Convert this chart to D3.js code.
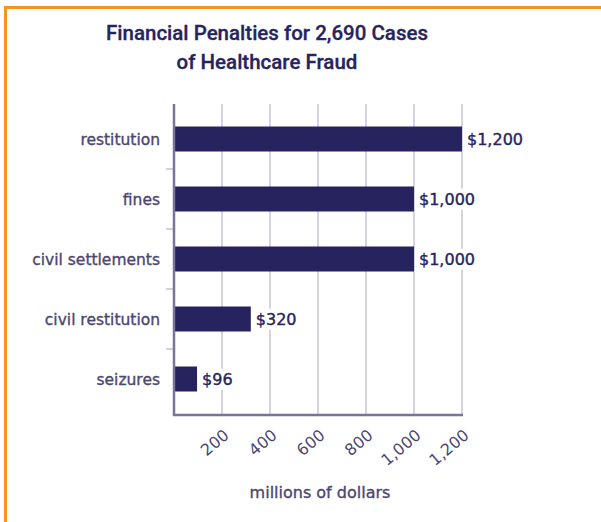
<!DOCTYPE html>
<html lang="en">
<head>
    <meta charset="UTF-8">
    <title>Financial Penalties</title>
    <script src="https://d3js.org/d3.v7.min.js"></script>
    <style>
        body { margin: 0; background: #fff; }
        .cat { font-family: "DejaVu Sans", sans-serif; font-size: 15.5px; fill: #4b4672; stroke: #4b4672; stroke-width: 0.35px; }
        .val { font-family: "DejaVu Sans", sans-serif; font-size: 16px; fill: #28245f; stroke: #28245f; stroke-width: 0.4px; }
        .tick-lbl { font-family: "DejaVu Sans", sans-serif; font-size: 16px; fill: #4b4672; }
        .title { font-family: "Roboto", sans-serif; font-size: 20.5px; fill: #27235e; font-weight: 500; stroke: #27235e; stroke-width: 0.3px; }
    </style>
</head>
<body>
<script>
    // data
    var categories = ["restitution", "fines", "civil settlements", "civil restitution", "seizures"];
    var values = [1200, 1000, 1000, 320, 96];
    var valueLabels = ["$1,200", "$1,000", "$1,000", "$320", "$96"];
    var xTicks = [200, 400, 600, 800, 1000, 1200];
    var titleLines = ["Financial Penalties for 2,690 Cases", "of Healthcare Fraud"];
    var axisTitle = "millions of dollars";

    var width = 601, height = 522;

    var svg = d3.select("body").append("svg")
        .attr("width", width)
        .attr("height", height);

    // orange frame (top + left only)
    svg.append("line").attr("x1", 4).attr("x2", width).attr("y1", 7.5).attr("y2", 7.5)
        .style("stroke", "#f7941d").style("stroke-width", 3);
    svg.append("line").attr("x1", 5.5).attr("x2", 5.5).attr("y1", 6).attr("y2", height)
        .style("stroke", "#f7941d").style("stroke-width", 3);

    // title
    svg.selectAll("text.title")
        .data(titleLines)
        .enter().append("text")
        .attr("class", "title")
        .attr("x", 267)
        .attr("y", function (d, i) { return 40 + i * 29; })
        .attr("text-anchor", "middle")
        .text(function (d) { return d; });

    var x = d3.scaleLinear().domain([0, 1200]).range([174, 462]);
    var y = d3.scaleBand().domain(categories).range([109, 409]).padding(0);
    var barH = 25;

    var plotTop = 104, plotBottom = 415;

    // gridlines
    svg.selectAll("line.grid")
        .data(xTicks)
        .enter().append("line")
        .attr("class", "grid")
        .attr("x1", function (d) { return x(d); })
        .attr("x2", function (d) { return x(d); })
        .attr("y1", plotTop)
        .attr("y2", plotBottom)
        .style("stroke", "#d5d3e1")
        .style("stroke-width", 2);

    // category separator ticks
    svg.selectAll("line.sep")
        .data(categories.slice(1))
        .enter().append("line")
        .attr("x1", 166)
        .attr("x2", 174)
        .attr("y1", function (d) { return y(d); })
        .attr("y2", function (d) { return y(d); })
        .style("stroke", "#a8a5bd")
        .style("stroke-width", 1);

    // bars
    svg.selectAll("rect.bar")
        .data(values)
        .enter().append("rect")
        .attr("class", "bar")
        .attr("x", x(0))
        .attr("y", function (d, i) { return y(categories[i]) + (y.bandwidth() - barH) / 2; })
        .attr("width", function (d) { return x(d) - x(0); })
        .attr("height", barH)
        .style("fill", "#27235e");

    // value labels with white backing
    var vl = svg.selectAll("g.val")
        .data(values)
        .enter().append("g")
        .attr("transform", function (d, i) {
            return "translate(" + (x(d) + 5) + "," + (y(categories[i]) + y.bandwidth() / 2) + ")";
        });
    vl.append("text")
        .attr("class", "val")
        .attr("dy", "0.36em")
        .text(function (d, i) { return valueLabels[i]; });
    vl.each(function () {
        var g = d3.select(this);
        var b = g.select("text").node().getBBox();
        g.insert("rect", "text")
            .attr("x", b.x - 2).attr("y", b.y - 1)
            .attr("width", b.width + 4).attr("height", b.height + 2)
            .style("fill", "#fff");
    });

    // axes lines
    svg.append("line").attr("x1", x(0)).attr("x2", x(0)).attr("y1", plotTop).attr("y2", plotBottom + 1)
        .style("stroke", "#7a7499").style("stroke-width", 2.5);
    svg.append("line").attr("x1", x(0) - 1).attr("x2", x(1200) + 1).attr("y1", plotBottom).attr("y2", plotBottom)
        .style("stroke", "#7a7499").style("stroke-width", 2.5);

    // category labels
    svg.selectAll("text.cat")
        .data(categories)
        .enter().append("text")
        .attr("class", "cat")
        .attr("x", 160)
        .attr("y", function (d) { return y(d) + y.bandwidth() / 2; })
        .attr("dy", "0.36em")
        .attr("text-anchor", "end")
        .text(function (d) { return d; });

    // x tick labels, rotated
    svg.selectAll("text.tick-lbl")
        .data(xTicks)
        .enter().append("text")
        .attr("class", "tick-lbl")
        .attr("text-anchor", "end")
        .attr("transform", function (d) { return "translate(" + (x(d) + 8) + ",437) rotate(-40)"; })
        .text(function (d) { return d3.format(",")(d); });

    // axis title
    svg.append("text")
        .attr("class", "cat")
        .attr("x", 320)
        .attr("y", 498)
        .attr("text-anchor", "middle")
        .style("font-size", "16px")
        .text(axisTitle);
</script>
</body>
</html>
